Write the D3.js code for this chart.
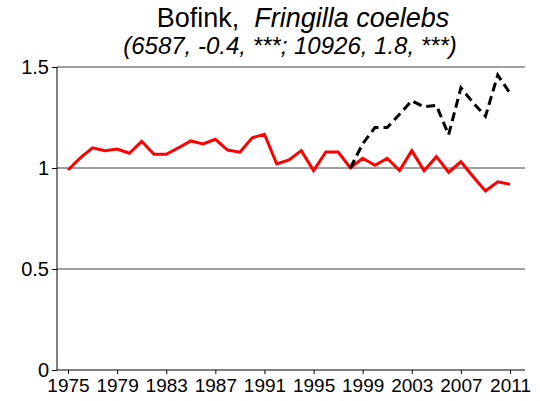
<!DOCTYPE html>
<html>
<head>
<meta charset="utf-8">
<script src="https://cdn.jsdelivr.net/npm/d3@7"></script>
<style>
  body { margin: 0; background: #fff; }
  text { font-family: "Liberation Sans", Arial, sans-serif; }
</style>
</head>
<body>
<script>
// data
let years = d3.range(1975, 2012);
let redValues = [0.99, 1.05, 1.10, 1.086, 1.094, 1.073, 1.132, 1.068, 1.068, 1.10,
  1.134, 1.119, 1.142, 1.089, 1.078, 1.15, 1.167, 1.02, 1.04, 1.086,
  0.987, 1.079, 1.079, 1.00, 1.048, 1.013, 1.048, 0.987, 1.086, 0.987,
  1.056, 0.979, 1.031, 0.957, 0.886, 0.932, 0.919];
let blackYears = d3.range(1998, 2012);
let blackValues = [1.0, 1.12, 1.20, 1.20, 1.266, 1.333, 1.303, 1.31, 1.165, 1.397,
  1.323, 1.256, 1.46, 1.37];
let yTicks = [0, 0.5, 1, 1.5];
let xTickYears = [1975, 1979, 1983, 1987, 1991, 1995, 1999, 2003, 2007, 2011];
let titleMain = "Bofink,  ";
let titleLatin = "Fringilla coelebs";
let subtitle = "(6587, -0.4, ***; 10926, 1.8, ***)";

let svgWidth = 540, svgHeight = 401;
let plot = { left: 57, right: 525, top: 67, bottom: 370 };
let fontFam = "'Liberation Sans', Arial, sans-serif";

let svg = d3.select("body").append("svg")
  .attr("width", svgWidth)
  .attr("height", svgHeight);

let xScale = d3.scaleLinear()
  .domain([1974.104, 2012.22])
  .range([plot.left, plot.right]);
let yScale = d3.scaleLinear()
  .domain([0, 1.5])
  .range([plot.bottom, plot.top]);

// gridlines
svg.append("g").selectAll("line").data(yTicks.filter(d => d > 0)).join("line")
  .attr("x1", plot.left).attr("x2", plot.right)
  .attr("y1", d => yScale(d)).attr("y2", d => yScale(d))
  .attr("stroke", "#404040").attr("stroke-width", 1);

// y axis
let yAxis = d3.axisLeft(yScale).tickValues(yTicks).tickSize(5).tickPadding(3)
  .tickFormat(d => d);
let yAxisG = svg.append("g")
  .attr("transform", `translate(${plot.left}, 0)`)
  .call(yAxis);
yAxisG.select(".domain").attr("d", `M0,${plot.top}V${plot.bottom}`);
yAxisG.selectAll("text").attr("font-size", 20).attr("fill", "#000")
  .style("font-family", fontFam);

// x axis
let xAxis = d3.axisBottom(xScale).tickValues(xTickYears).tickSize(4).tickPadding(5)
  .tickFormat(d => d);
let xAxisG = svg.append("g")
  .attr("transform", `translate(0, ${plot.bottom})`)
  .call(xAxis);
xAxisG.select(".domain").attr("d", `M${plot.left},0H${plot.right}`);
xAxisG.selectAll("text").attr("font-size", 19).attr("fill", "#000")
  .style("font-family", fontFam);

// lines
let line = d3.line().x(d => xScale(d[0])).y(d => yScale(d[1]));
svg.append("path")
  .datum(years.map((y, i) => [y, redValues[i]]))
  .attr("d", line)
  .attr("fill", "none")
  .attr("stroke", "#ff0000")
  .attr("stroke-width", 3);
svg.append("path")
  .datum(blackYears.map((y, i) => [y, blackValues[i]]))
  .attr("d", line)
  .attr("fill", "none")
  .attr("stroke", "#000")
  .attr("stroke-width", 3)
  .attr("stroke-dasharray", "9,5");

// title
let title = svg.append("text")
  .attr("x", 303).attr("y", 27)
  .attr("text-anchor", "middle")
  .attr("font-size", 27)
  .style("white-space", "pre");
title.append("tspan").text(titleMain);
title.append("tspan").attr("font-style", "italic").text(titleLatin);
svg.append("text")
  .attr("x", 290).attr("y", 54)
  .attr("text-anchor", "middle")
  .attr("font-size", 24)
  .attr("font-style", "italic")
  .style("white-space", "pre")
  .text(subtitle);
</script>
</body>
</html>
